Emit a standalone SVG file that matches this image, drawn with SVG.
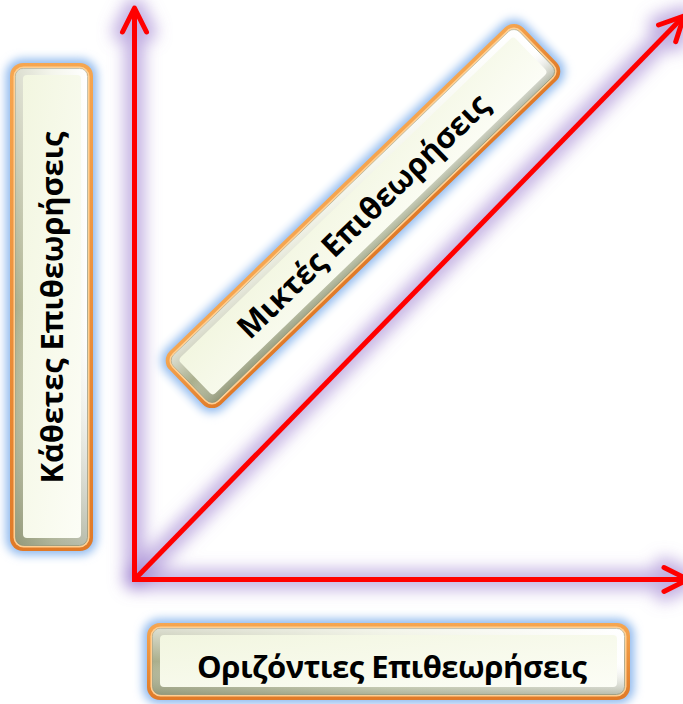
<svg xmlns="http://www.w3.org/2000/svg" width="683" height="704" viewBox="0 0 683 704">
<style>
.glow{fill:#8fb9ee;filter:url(#blurBox)}
.ring{fill:url(#orange)}
.ringhi{fill:#ffcf92}
.bev{fill:url(#bevel);stroke:#9a9c80;stroke-width:0.8}
.bev2{fill:url(#bevel2)}
.face{fill:url(#face)}
.lbl{font-family:"Open Sans","Noto Sans","DejaVu Sans",sans-serif;font-weight:700;font-size:31px;fill:#000;text-anchor:middle}
.ax{fill:none;stroke:#ff0000;stroke-width:5;stroke-linecap:round;stroke-linejoin:round}
.axg{fill:none;stroke:#9a7ccf;stroke-width:20;stroke-opacity:0.6;stroke-linecap:round;stroke-linejoin:round}
</style>
<defs>
<filter id="blurBox" x="-30%" y="-30%" width="160%" height="160%"><feGaussianBlur stdDeviation="5"/></filter>
<filter id="blurAx" filterUnits="userSpaceOnUse" x="0" y="0" width="683" height="704"><feGaussianBlur stdDeviation="8"/></filter>
<linearGradient id="orange" x1="0" y1="0" x2="0" y2="1"><stop offset="0" stop-color="#f6a650"/><stop offset="1" stop-color="#e07a28"/></linearGradient>
<linearGradient id="bevel" x1="0" y1="0" x2="1" y2="0"><stop offset="0" stop-color="#a9ae8c"/><stop offset="0.5" stop-color="#e4e8d0"/><stop offset="1" stop-color="#ffffff"/></linearGradient>
<linearGradient id="bevel2" x1="0" y1="0" x2="0" y2="1"><stop offset="0" stop-color="#ffffff" stop-opacity="0.6"/><stop offset="0.5" stop-color="#ffffff" stop-opacity="0"/><stop offset="1" stop-color="#80876a" stop-opacity="0.55"/></linearGradient>
<linearGradient id="face" x1="0" y1="0" x2="1" y2="1"><stop offset="0" stop-color="#f2f6e0"/><stop offset="1" stop-color="#fcfdf6"/></linearGradient>
</defs>

<g id="connectors">
  <g filter="url(#blurAx)">
    <path class="axg" d="M134.5 579 V8 M122.5 32 L134.5 8 L146.5 32"/>
    <path class="axg" d="M134 579.5 H688 M664 567.5 L688 579.5 L664 591.5"/>
    <path class="axg" d="M137 577 L684 16 M658.5 25 L684 16 L675.7 41.7"/>
  </g>
  <path class="ax" style="stroke-linecap:butt" d="M134.5 581 V11"/>
  <polyline class="ax" points="122.5,32 134.5,8 146.5,32"/>
  <path class="ax" style="stroke-linecap:butt" d="M132 579.5 H685"/>
  <polyline class="ax" points="664,567.5 688,579.5 664,591.5"/>
  <path class="ax" style="stroke-linecap:butt" d="M136 578 L682 18"/>
  <polyline class="ax" points="658.5,25 684,16 675.7,41.7"/>
</g>

<g id="node-vertical" transform="translate(10,63)">
  <rect class="glow" x="-4" y="-4" width="91" height="496" rx="16"/>
  <rect class="ring" x="0" y="0" width="83" height="488" rx="13"/>
  <rect class="ringhi" x="3.5" y="3.5" width="76" height="481" rx="10"/>
  <rect class="bev" x="5.5" y="5.5" width="72" height="477" rx="8"/>
  <rect class="bev2" x="5.5" y="5.5" width="72" height="477" rx="8"/>
  <rect class="face" x="13" y="12" width="58" height="463" rx="4"/>
  <text class="lbl" transform="translate(52.5,244.5) rotate(-90)" textLength="352">Κάθετες Επιθεωρήσεις</text>
</g>

<g id="node-mixed" transform="translate(363,216) rotate(-44) translate(-246,-37)">
  <rect class="glow" x="-4" y="-4" width="500" height="82" rx="16"/>
  <rect class="ring" x="0" y="0" width="492" height="74" rx="13"/>
  <rect class="ringhi" x="3.5" y="3.5" width="485" height="67" rx="10"/>
  <rect class="bev" x="5.5" y="5.5" width="481" height="63" rx="8"/>
  <rect class="bev2" x="5.5" y="5.5" width="481" height="63" rx="8"/>
  <rect class="face" x="13" y="12" width="466" height="50" rx="4"/>
  <text class="lbl" x="246" y="48" textLength="336">Μικτές Επιθεωρήσεις</text>
</g>

<g id="node-horizontal" transform="translate(147,623)">
  <rect class="glow" x="-4" y="-4" width="491" height="85" rx="16"/>
  <rect class="ring" x="0" y="0" width="483" height="77" rx="13"/>
  <rect class="ringhi" x="3.5" y="3.5" width="476" height="70" rx="10"/>
  <rect class="bev" x="5.5" y="5.5" width="472" height="66" rx="8"/>
  <rect class="bev2" x="5.5" y="5.5" width="472" height="66" rx="8"/>
  <rect class="face" x="13" y="12" width="457" height="52" rx="4"/>
  <text class="lbl" x="245" y="55" textLength="390">Οριζόντιες Επιθεωρήσεις</text>
</g>
</svg>
